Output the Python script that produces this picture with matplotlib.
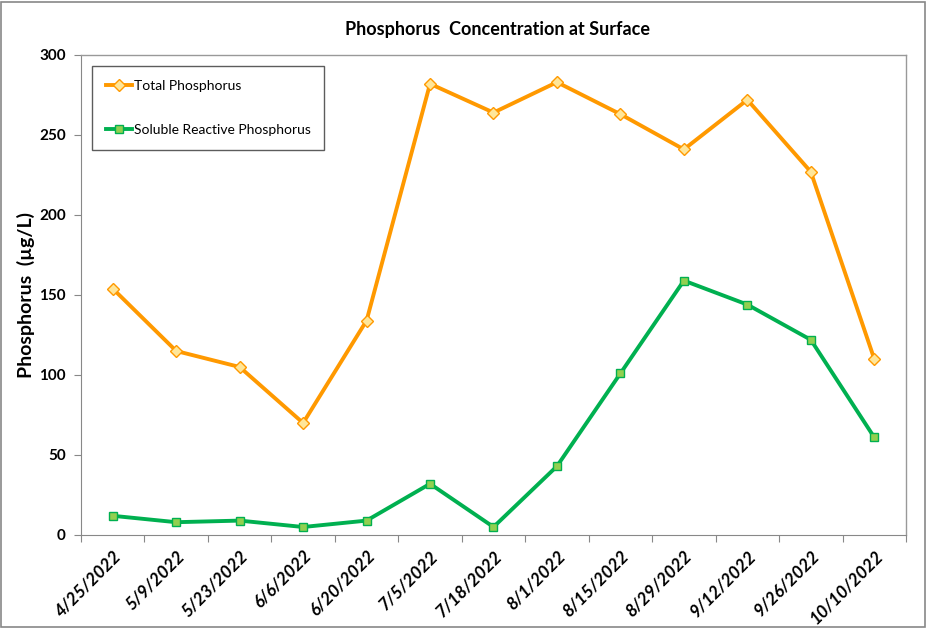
import matplotlib
matplotlib.use("Agg")
import matplotlib.pyplot as plt
from matplotlib.patches import Rectangle

dates = ["4/25/2022", "5/9/2022", "5/23/2022", "6/6/2022", "6/20/2022", "7/5/2022",
         "7/18/2022", "8/1/2022", "8/15/2022", "8/29/2022", "9/12/2022", "9/26/2022",
         "10/10/2022"]
total_p = [154, 115, 105, 70, 134, 282, 264, 283, 263, 241, 272, 227, 110]
srp = [12, 8, 9, 5, 9, 32, 5, 43, 101, 159, 144, 122, 61]
yticks = [0, 50, 100, 150, 200, 250, 300]

plt.rcParams['font.family'] = ['Lato', 'DejaVu Sans']

fig = plt.figure(figsize=(9.27, 6.28), dpi=100)
ax = fig.add_axes([81/927, 1-535/628, (906-81)/927, (535-55)/628])

x = list(range(len(dates)))
ax.plot(x, total_p, color='#FF9900', lw=2.8, marker='D', ms=6,
        mfc='#FFE699', mec='#FF9900', mew=1, label='Total Phosphorus', zorder=3)
ax.plot(x, srp, color='#00B050', lw=2.8, marker='s', ms=6,
        mfc='#92D050', mec='#00B050', mew=1, label='Soluble Reactive Phosphorus', zorder=3)

ax.set_xlim(-0.5, len(dates)-0.5)
ax.set_ylim(0, 300)
ax.set_yticks(yticks)
ax.set_yticklabels([str(v) for v in yticks], fontsize=11, fontweight='bold')
ax.set_xticks([i - 0.5 for i in range(len(dates)+1)], minor=False)
ax.set_xticklabels([])
ax.set_xticks(x, minor=True)
ax.set_xticklabels(dates, minor=True, rotation=45, ha='right', va='top',
                   fontsize=12.5, fontweight='bold', style='italic',
                   rotation_mode='anchor')
ax.tick_params(axis='x', which='minor', length=0, pad=9)
ax.tick_params(axis='x', which='major', length=5, color='#888888', direction='out')
ax.tick_params(axis='y', length=5, color='#888888', direction='out', pad=6)

for s in ['top', 'right']:
    ax.spines[s].set_color('#999999')
    ax.spines[s].set_linewidth(1)
ax.spines['left'].set_color('#888888')
ax.spines['bottom'].set_color('#888888')

ax.set_ylabel('Phosphorus  (µg/L)', fontsize=14, fontweight='bold', labelpad=3)
fig.text(0.537, 1-30/628, 'Phosphorus  Concentration at Surface', ha='center', va='center',
         fontsize=13, fontweight='bold')

leg = ax.legend(loc='upper left', bbox_to_anchor=((92-81)/825, 1-(66-55)/480),
                frameon=True, fancybox=False, edgecolor='#333333', fontsize=10,
                labelspacing=2.3, handlelength=1.9, handletextpad=0.1,
                borderpad=1.0, borderaxespad=0)
leg.get_frame().set_linewidth(1)

fig.patches.append(Rectangle((1/927, 1/628), 1-3/927, 1-3/628, transform=fig.transFigure,
                             fill=False, edgecolor='#888888', lw=1.2))

fig.savefig('out.png', dpi=100)
